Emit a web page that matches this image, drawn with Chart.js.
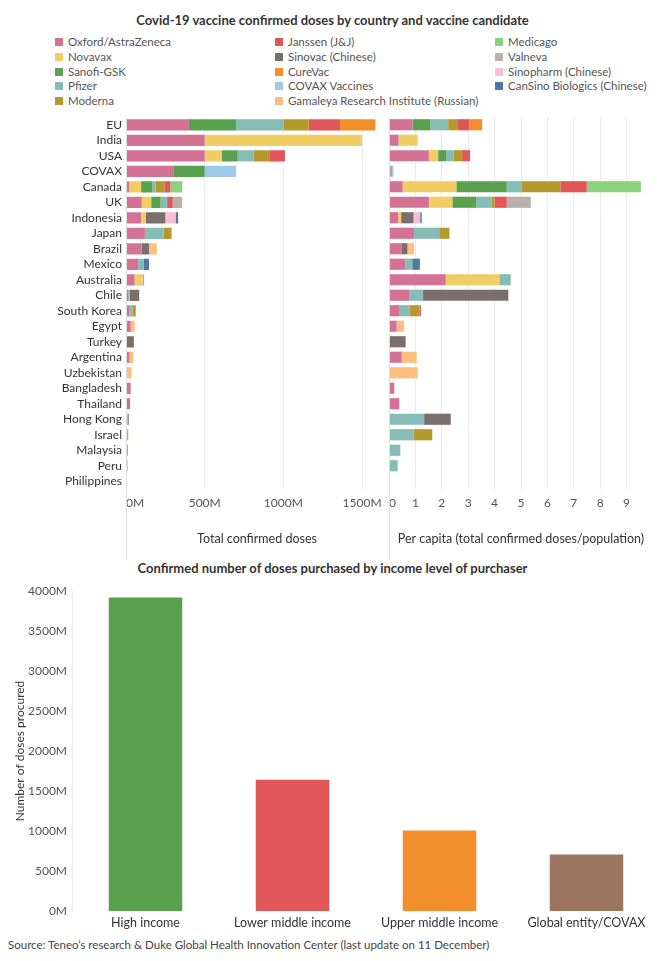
<!DOCTYPE html>
<html>
<head>
<meta charset="utf-8">
<script src="https://cdn.jsdelivr.net/npm/chart.js@4.4.0/dist/chart.umd.min.js"></script>
<style>
  body { margin: 0; background: #fff; font-family: Lato, sans-serif; color: #333; }
  #page { position: relative; width: 661px; height: 961px; overflow: hidden; }
  .abs { position: absolute; white-space: nowrap; }
  .title { font-weight: bold; font-size: 13px; color: #333; width: 661px; text-align: center; left: 2px; }
  .leg { font-size: 11.5px; color: #555; line-height: 14px; }
  .sw { display: inline-block; width: 8px; height: 8px; margin-right: 5px; }
  canvas { position: absolute; }
</style>
</head>
<body>
<div id="page">
  <div class="abs title" style="top:12px;">Covid-19 vaccine confirmed doses by country and vaccine candidate</div>
  <div id="legend"></div>
  <canvas id="dosesChart" width="395" height="454" style="left:0;top:106px;"></canvas>
  <canvas id="perCapitaChart" width="279" height="450" style="left:382px;top:110px;"></canvas>
  <div class="abs title" style="top:560px;">Confirmed number of doses purchased by income level of purchaser</div>
  <canvas id="incomeChart" width="661" height="360" style="left:0;top:575px;"></canvas>
  <div class="abs" style="left:8px;top:938px;font-size:11.5px;color:#444;">Source: Teneo’s research &amp; Duke Global Health Innovation Center (last update on 11 December)</div>
</div>
<script>
const countries = ['EU', 'India', 'USA', 'COVAX', 'Canada', 'UK', 'Indonesia', 'Japan', 'Brazil', 'Mexico',
  'Australia', 'Chile', 'South Korea', 'Egypt', 'Turkey', 'Argentina', 'Uzbekistan', 'Bangladesh', 'Thailand',
  'Hong Kong', 'Israel', 'Malaysia', 'Peru', 'Philippines'];

const vaccines = ['Oxford/AstraZeneca', 'Novavax', 'Sanofi-GSK', 'Pfizer', 'Moderna', 'Janssen (J&J)',
  'Sinovac (Chinese)', 'CureVac', 'COVAX Vaccines', 'Gamaleya Research Institute (Russian)', 'Medicago',
  'Valneva', 'Sinopharm (Chinese)', 'CanSino Biologics (Chinese)'];
const vaccineColors = ['#D37295', '#F1CE63', '#59A14F', '#86BCB6', '#B6992D', '#E15759',
  '#79706E', '#F28E2B', '#A0CBE8', '#FFBE7D', '#8CD17D', '#BAB0AC', '#FABFD2', '#4E79A7'];

// total confirmed doses (millions), one array per vaccine, in country order
const oxfordDoses    = [400, 500, 500, 300, 20, 100, 95, 120, 100, 77, 54, 14, 20, 30, 0, 22, 0, 30, 26, 0, 0, 0, 0, 2.6];
const novavaxDoses   = [0, 1000, 110, 0, 76, 60, 30, 0, 0, 0, 51, 0, 0, 0, 0, 0, 0, 0, 0, 0, 0, 0, 0, 0];
const sanofiDoses    = [300, 0, 100, 200, 72, 60, 0, 0, 0, 0, 0, 0, 0, 0, 0, 0, 0, 0, 0, 0, 0, 0, 0, 0];
const pfizerDoses    = [300, 0, 100, 0, 20, 40, 0, 120, 0, 34, 10, 10, 20, 0, 0, 0, 0, 0, 0, 10, 8, 12.8, 10, 0];
const modernaDoses   = [160, 0, 100, 0, 56, 7, 0, 50, 0, 0, 0, 0, 20, 0, 0, 0, 0, 0, 0, 0, 6, 0, 0, 0];
const janssenDoses   = [200, 0, 100, 0, 38, 30, 0, 0, 0, 0, 0, 0, 3, 0, 0, 0, 0, 0, 0, 0, 0, 0, 0, 0];
const sinovacDoses   = [0, 0, 0, 0, 0, 0, 125, 0, 46, 0, 0, 60, 0, 0, 50, 0, 0, 0, 0, 7.5, 0, 0, 0, 0];
const curevacDoses   = [225, 0, 0, 0, 0, 0, 0, 0, 0, 0, 0, 0, 0, 0, 0, 0, 0, 0, 0, 0, 0, 0, 0, 0];
const covaxDoses     = [0, 0, 0, 200, 0, 0, 0, 0, 0, 0, 0, 0, 0, 0, 0, 0, 0, 0, 0, 0, 0, 0, 0, 0];
const gamaleyaDoses  = [0, 0, 0, 0, 0, 0, 0, 0, 50, 0, 0, 0, 0, 25, 0, 25, 35, 0, 0, 0, 0, 0, 0, 0];
const medicagoDoses  = [0, 0, 0, 0, 76, 0, 0, 0, 0, 0, 0, 0, 0, 0, 0, 0, 0, 0, 0, 0, 0, 0, 0, 0];
const valnevaDoses   = [0, 0, 0, 0, 0, 60, 0, 0, 0, 0, 0, 0, 0, 0, 0, 0, 0, 0, 0, 0, 0, 0, 0, 0];
const sinopharmDoses = [0, 0, 0, 0, 0, 0, 65, 0, 0, 0, 0, 0, 0, 0, 0, 0, 0, 0, 0, 0, 0, 0, 0, 0];
const cansinoDoses   = [0, 0, 0, 0, 0, 0, 16, 0, 0, 35, 0, 0, 0, 0, 0, 0, 0, 0, 0, 0, 0, 0, 0, 0];

// per capita (doses / population), same layout
const oxfordPc    = [0.89, 0.36, 1.51, 0.06, 0.52, 1.51, 0.35, 0.95, 0.47, 0.61, 2.15, 0.76, 0.38, 0.29, 0, 0.48, 0, 0.2, 0.39, 0, 0, 0, 0, 0.03];
const novavaxPc   = [0, 0.73, 0.35, 0, 2.03, 0.89, 0.11, 0, 0, 0, 2.03, 0, 0, 0, 0, 0, 0, 0, 0, 0, 0, 0, 0, 0];
const sanofiPc    = [0.68, 0, 0.3, 0.04, 1.91, 0.91, 0, 0, 0, 0, 0, 0, 0, 0, 0, 0, 0, 0, 0, 0, 0, 0, 0, 0];
const pfizerPc    = [0.67, 0, 0.29, 0, 0.56, 0.59, 0, 0.95, 0, 0.27, 0.43, 0.53, 0.39, 0, 0, 0, 0, 0, 0, 1.33, 0.94, 0.43, 0.33, 0];
const modernaPc   = [0.37, 0, 0.32, 0, 1.47, 0.1, 0, 0.39, 0, 0, 0, 0, 0.39, 0, 0, 0, 0, 0, 0, 0, 0.7, 0, 0, 0];
const janssenPc   = [0.43, 0, 0.3, 0, 1.0, 0.46, 0, 0, 0, 0, 0, 0, 0.05, 0, 0, 0, 0, 0, 0, 0, 0, 0, 0, 0];
const sinovacPc   = [0, 0, 0, 0, 0, 0, 0.47, 0, 0.23, 0, 0, 3.23, 0, 0, 0.63, 0, 0, 0, 0, 1.01, 0, 0, 0, 0];
const curevacPc   = [0.49, 0, 0, 0, 0, 0, 0, 0, 0, 0, 0, 0, 0, 0, 0, 0, 0, 0, 0, 0, 0, 0, 0, 0];
const covaxPc     = [0, 0, 0, 0.07, 0, 0, 0, 0, 0, 0, 0, 0, 0, 0, 0, 0, 0, 0, 0, 0, 0, 0, 0, 0];
const gamaleyaPc  = [0, 0, 0, 0, 0, 0, 0, 0, 0.25, 0, 0, 0, 0, 0.28, 0, 0.57, 1.09, 0, 0, 0, 0, 0, 0, 0];
const medicagoPc  = [0, 0, 0, 0, 2.05, 0, 0, 0, 0, 0, 0, 0, 0, 0, 0, 0, 0, 0, 0, 0, 0, 0, 0, 0];
const valnevaPc   = [0, 0, 0, 0, 0, 0.91, 0, 0, 0, 0, 0, 0, 0, 0, 0, 0, 0, 0, 0, 0, 0, 0, 0, 0];
const sinopharmPc = [0, 0, 0, 0, 0, 0, 0.25, 0, 0, 0, 0, 0, 0, 0, 0, 0, 0, 0, 0, 0, 0, 0, 0, 0];
const cansinoPc   = [0, 0, 0, 0, 0, 0, 0.06, 0, 0, 0.29, 0, 0, 0, 0, 0, 0, 0, 0, 0, 0, 0, 0, 0, 0];

const doseSeries = [oxfordDoses, novavaxDoses, sanofiDoses, pfizerDoses, modernaDoses, janssenDoses, sinovacDoses,
  curevacDoses, covaxDoses, gamaleyaDoses, medicagoDoses, valnevaDoses, sinopharmDoses, cansinoDoses];
const perCapitaSeries = [oxfordPc, novavaxPc, sanofiPc, pfizerPc, modernaPc, janssenPc, sinovacPc,
  curevacPc, covaxPc, gamaleyaPc, medicagoPc, valnevaPc, sinopharmPc, cansinoPc];

const doseTicks = [0, 500, 1000, 1500];
const doseMax = 1665;
const perCapitaTicks = [0, 1, 2, 3, 4, 5, 6, 7, 8, 9];
const perCapitaMax = 10;

// bottom chart
const incomeLevels = ['High income', 'Lower middle income', 'Upper middle income', 'Global entity/COVAX'];
const incomeDoses = [3920, 1640, 1005, 705];
const incomeColors = ['#59A14F', '#E15759', '#F28E2B', '#9C7560'];
const incomeMax = 4000;

const FONT = 'Lato, sans-serif';

// legend, filled column by column like the original
const legend = document.getElementById('legend');
const legendCols = [55, 275, 495];
vaccines.forEach((name, i) => {
    const col = Math.floor(i / 5), row = i % 5;
    const item = document.createElement('div');
    item.className = 'abs leg';
    item.style.left = legendCols[col] + 'px';
    item.style.top = (35 + row * 14.8) + 'px';
    item.innerHTML = '<span class="sw" style="background:' + vaccineColors[i] + '"></span>';
    item.appendChild(document.createTextNode(name));
    legend.appendChild(item);
});

// pane borders that run down through the axis area
const paneLines = {
    id: 'paneLines',
    afterDraw(chart) {
        const { ctx, chartArea } = chart;
        ctx.save();
        ctx.strokeStyle = '#dedede';
        ctx.lineWidth = 1;
        const x = Math.round(chartArea.left) + 0.5;
        ctx.beginPath();
        ctx.moveTo(x, chartArea.top);
        ctx.lineTo(x, chart.height);
        ctx.stroke();
        ctx.restore();
    }
};

function makeDatasets(seriesList) {
    return seriesList.map((values, i) => ({
        label: vaccines[i],
        data: values,
        backgroundColor: vaccineColors[i],
        borderWidth: 0,
        barPercentage: 0.72,
        categoryPercentage: 1
    }));
}

// horizontal value axis: listed ticks plus an unlabelled one at the end so 'inner' only shifts the first label
function valueAxis(ticks, max, fmt, titleText) {
    return {
        stacked: true,
        min: 0,
        max: max,
        border: { display: false },
        grid: {
            drawTicks: false,
            color: ctx => (ctx.tick && ctx.tick.value === max) ? 'rgba(0,0,0,0)' : '#ebebeb'
        },
        afterBuildTicks(scale) { scale.ticks = ticks.concat([max]).map(v => ({ value: v })); },
        ticks: {
            align: 'inner',
            padding: 7,
            color: '#555',
            font: { family: FONT, size: 12 },
            callback: v => v === max ? '' : fmt(v)
        },
        title: {
            display: true,
            text: titleText,
            color: '#333',
            font: { family: FONT, size: 12.5 },
            padding: { top: 0, bottom: 14 }
        },
        afterFit(scale) { scale.height = 71; }
    };
}

const commonPlugins = { legend: { display: false }, tooltip: { enabled: false } };

new Chart(document.getElementById('dosesChart'), {
    type: 'bar',
    data: { labels: countries, datasets: makeDatasets(doseSeries) },
    options: {
        indexAxis: 'y',
        responsive: false,
        animation: false,
        layout: { padding: { top: 0, right: 0, left: 0, bottom: 0 } },
        plugins: commonPlugins,
        scales: {
            x: valueAxis(doseTicks, doseMax, v => v + 'M', 'Total confirmed doses'),
            y: {
                stacked: true,
                border: { display: false },
                grid: { display: false, drawTicks: false },
                ticks: { padding: 4, color: '#333', font: { family: FONT, size: 12 }, autoSkip: false },
                afterFit(scale) { scale.width = 126; }
            }
        }
    },
    plugins: [paneLines]
});

new Chart(document.getElementById('perCapitaChart'), {
    type: 'bar',
    data: { labels: countries, datasets: makeDatasets(perCapitaSeries) },
    options: {
        indexAxis: 'y',
        responsive: false,
        animation: false,
        layout: { padding: { top: 7, right: 8, left: 0, bottom: 0 } },
        plugins: commonPlugins,
        scales: {
            x: valueAxis(perCapitaTicks, perCapitaMax, v => String(v), 'Per capita (total confirmed doses/population)'),
            y: { stacked: true, display: false }
        }
    },
    plugins: [paneLines]
});

new Chart(document.getElementById('incomeChart'), {
    type: 'bar',
    data: {
        labels: incomeLevels,
        datasets: [{
            data: incomeDoses,
            backgroundColor: incomeColors,
            borderWidth: 0,
            barPercentage: 0.5,
            categoryPercentage: 1
        }]
    },
    options: {
        responsive: false,
        animation: false,
        layout: { padding: { top: 16, right: 1, left: 0, bottom: 0 } },
        plugins: commonPlugins,
        scales: {
            x: {
                border: { display: false },
                grid: { display: false, drawTicks: false },
                ticks: { padding: 4, color: '#333', font: { family: FONT, size: 12.5 } },
                afterFit(scale) { scale.height = 24; }
            },
            y: {
                min: 0,
                max: incomeMax,
                border: { display: true, color: '#efefef' },
                grid: { display: false, drawTicks: false },
                ticks: {
                    stepSize: 500,
                    padding: 5,
                    color: '#555',
                    font: { family: FONT, size: 12 },
                    callback: v => v + 'M'
                },
                title: {
                    display: true,
                    text: 'Number of doses procured',
                    color: '#333',
                    font: { family: FONT, size: 12 },
                    padding: { top: 13, bottom: 0 }
                },
                afterFit(scale) { scale.width = 72; }
            }
        }
    }
});
</script>
</body>
</html>
